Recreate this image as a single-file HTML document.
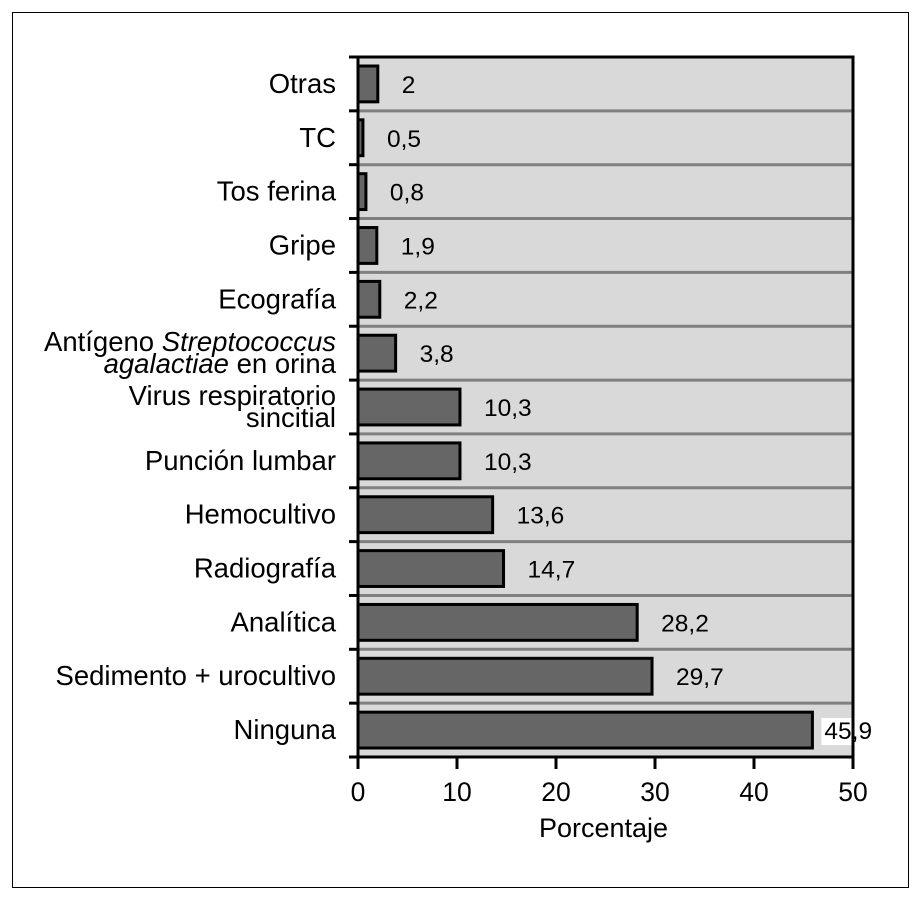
<!DOCTYPE html>
<html><head><meta charset="utf-8"><style>
body{margin:0;background:#fff;}
svg text{font-family:"Liberation Sans",Arial,sans-serif;fill:#000;}
</style></head><body>
<svg width="921" height="900" viewBox="0 0 921 900">
<rect x="12.5" y="12.5" width="896" height="875" fill="#fff" stroke="#000" stroke-width="1"/>
<g id="plot"></g>
</svg>
<script>
const categories=["Otras","TC","Tos ferina","Gripe","Ecografía","Antígeno Streptococcus agalactiae en orina","Virus respiratorio sincitial","Punción lumbar","Hemocultivo","Radiografía","Analítica","Sedimento + urocultivo","Ninguna"];
const values=[2,0.5,0.8,1.9,2.2,3.8,10.3,10.3,13.6,14.7,28.2,29.7,45.9];
const valueLabels=["2","0,5","0,8","1,9","2,2","3,8","10,3","10,3","13,6","14,7","28,2","29,7","45,9"];
const xTicks=[0,10,20,30,40,50];
const NS="http://www.w3.org/2000/svg";
const L=358,R=853,T=57,B=757;
const n=categories.length,rh=(B-T)/n;
const xs=v=>L+(v/50)*(R-L);
const g=document.getElementById('plot');
function mk(t,a){const e=document.createElementNS(NS,t);for(const k in a)e.setAttribute(k,a[k]);g.appendChild(e);return e;}
let bg=mk('rect',{x:L,y:T,width:R-L,height:B-T,fill:'#d9d9d9'});


for(let i=1;i<n;i++){const y=T+i*rh;let l=mk('line',{x1:L,x2:R,y1:y,y2:y,stroke:'#808080','stroke-width':3});

}
values.forEach((v,i)=>{
 const y0=T+i*rh;
 let b=mk('rect',{x:L,y:y0+9,width:Math.max(xs(v)-L,2),height:rh-18,fill:'#666',stroke:'#000','stroke-width':3});
 
 
 const tx=xs(v)+(i==n-1?12:24),ty=y0+rh/2+9;
 if(i==n-1){let wb=mk('rect',{x:tx-3,y:ty-21,width:52,height:27,fill:'#fff'});
 
 }
 let t=mk('text',{x:tx,y:ty,'font-size':24.5});t.textContent=valueLabels[i];
 
 
 let tk=mk('line',{x1:L-9,x2:L,y1:y0,y2:y0,stroke:'#000','stroke-width':3});
 
 
 const cy=y0+rh/2;
 let lab;
 if(i==5){lab=mk('text',{x:336,y:cy-2,'font-size':27.5,'text-anchor':'end'});
  lab.innerHTML='<tspan>Antígeno </tspan><tspan font-style="italic">Streptococcus</tspan><tspan x="336" dy="22" font-style="italic">agalactiae</tspan><tspan> en orina</tspan>';}
 else if(i==6){lab=mk('text',{x:336,y:cy-2,'font-size':27.5,'text-anchor':'end'});
  lab.innerHTML='<tspan>Virus respiratorio</tspan><tspan x="336" dy="22">sincitial</tspan>';}
 else{lab=mk('text',{x:336,y:cy+9,'font-size':27.5,'text-anchor':'end'});lab.textContent=categories[i];}
 
 
});
let tk=mk('line',{x1:L-9,x2:L,y1:B,y2:B,stroke:'#000','stroke-width':3});


let fr=mk('rect',{x:L,y:T,width:R-L,height:B-T,fill:'none',stroke:'#000','stroke-width':3});


xTicks.forEach(v=>{
 let l=mk('line',{x1:xs(v),x2:xs(v),y1:B,y2:B+12,stroke:'#000','stroke-width':3});
 
 
 let t=mk('text',{x:xs(v),y:B+44,'font-size':26.5,'text-anchor':'middle'});t.textContent=v;
 
 
});
let xt=mk('text',{x:(L+R)/2-2,y:B+80,'font-size':27,'text-anchor':'middle'});xt.textContent='Porcentaje';


</script>
</body></html>
